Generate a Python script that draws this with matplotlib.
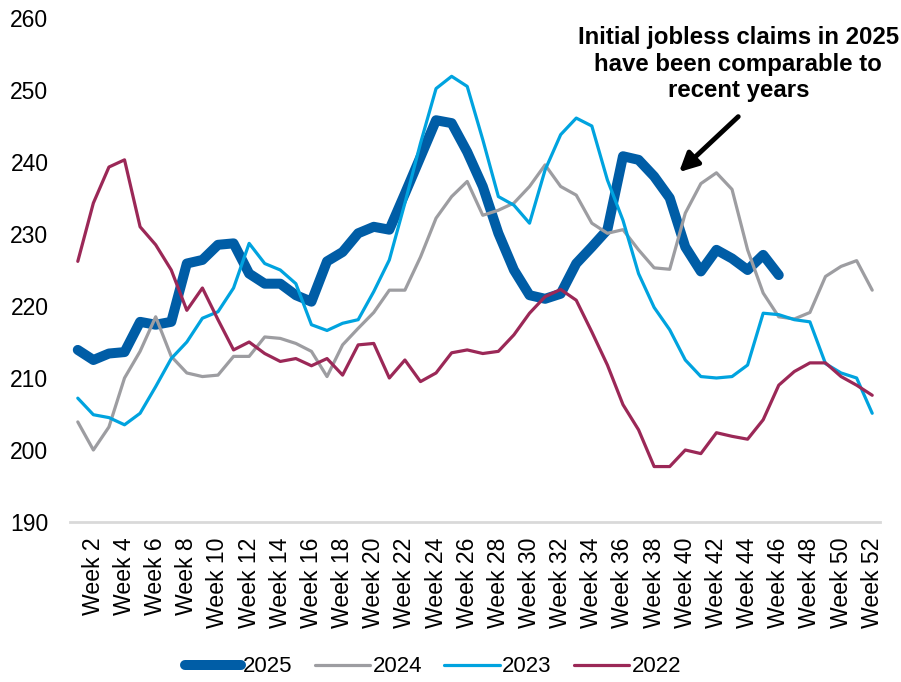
import matplotlib
matplotlib.use("Agg")
import matplotlib.pyplot as plt
import numpy as np

plt.rcParams['font.family'] = ['Liberation Sans', 'DejaVu Sans']

weeks = list(range(1, 53))
tick_weeks = list(range(2, 53, 2))
tick_labels = [f"Week {w}" for w in tick_weeks]

claims_2025 = [213.9, 212.5, 213.4, 213.6, 217.8, 217.4, 217.8, 225.9, 226.4, 228.5,
               228.7, 224.5, 223.1, 223.1, 221.5, 220.6, 226.2, 227.5, 230.1, 231.0,
               230.6, 235.6, 240.7, 245.8, 245.4, 241.4, 236.6, 230.1, 225.0, 221.5,
               221.0, 221.7, 225.9, 228.2, 230.6, 240.8, 240.3, 238.0, 235.0, 228.2,
               224.8, 227.8, 226.6, 225.0, 227.1, 224.3]
claims_2024 = [203.9, 200.0, 203.2, 210.0, 213.7, 218.5, 213.0, 210.7, 210.2, 210.4,
               213.0, 213.0, 215.7, 215.5, 214.8, 213.7, 210.2, 214.6, 216.9, 219.1,
               222.2, 222.2, 226.8, 232.2, 235.2, 237.3, 232.6, 233.3, 234.3, 236.6,
               239.6, 236.6, 235.4, 231.5, 230.1, 230.6, 227.8, 225.3, 225.1, 232.9,
               237.0, 238.5, 236.2, 227.8, 221.8, 218.5, 218.2, 219.1, 224.1, 225.5,
               226.3, 222.2]
claims_2023 = [207.2, 204.9, 204.5, 203.5, 205.1, 208.8, 212.7, 215.0, 218.3, 219.2,
               222.5, 228.7, 225.9, 225.0, 223.1, 217.4, 216.6, 217.6, 218.1, 222.0,
               226.4, 234.3, 242.6, 250.2, 251.9, 250.5, 243.1, 235.2, 234.0, 231.5,
               238.9, 243.8, 246.1, 245.0, 237.5, 231.9, 224.5, 219.8, 216.7, 212.5,
               210.2, 210.0, 210.2, 211.8, 219.0, 218.8, 218.1, 217.8, 212.0, 210.7,
               210.0, 205.1]
claims_2022 = [226.2, 234.3, 239.3, 240.3, 231.0, 228.5, 225.0, 219.4, 222.5, 218.1,
               213.9, 215.0, 213.4, 212.3, 212.7, 211.7, 212.7, 210.4, 214.6, 214.8,
               210.0, 212.5, 209.5, 210.7, 213.5, 213.9, 213.4, 213.7, 216.0, 219.0,
               221.3, 222.3, 220.8, 216.4, 211.8, 206.3, 202.8, 197.7, 197.7, 200.0,
               199.5, 202.4, 201.9, 201.5, 204.2, 209.0, 210.9, 212.1, 212.1, 210.2,
               209.0, 207.6]

series = [
    ("2025", claims_2025, "#005DA6", 7.2),
    ("2024", claims_2024, "#9D9DA1", 2.3),
    ("2023", claims_2023, "#00A3DF", 2.3),
    ("2022", claims_2022, "#9B2857", 2.3),
]

fig = plt.figure(figsize=(9.01, 6.82), dpi=100)
ax = fig.add_axes([70 / 901, 1 - 522 / 682, 810 / 901, 504 / 682])

for name, vals, color, lw in series:
    ax.plot(weeks[:len(vals)], vals, color=color, lw=lw, label=name,
            solid_capstyle='round', solid_joinstyle='round')

ax.set_xlim(0.5, 52.5)
ax.set_ylim(190, 260)
ax.set_yticks(np.arange(190, 261, 10))
ax.set_xticks(tick_weeks)
ax.set_xticklabels(tick_labels, rotation=90, fontsize=16.6)
ax.tick_params(axis='y', labelsize=16.5, length=0, pad=15.5)
ax.tick_params(axis='x', length=0, pad=11)
for s in ['top', 'right', 'left']:
    ax.spines[s].set_visible(False)
ax.spines['bottom'].set_color('#D9D9D9')
ax.spines['bottom'].set_linewidth(2)

ax.text(43.4, 253.6, "Initial jobless claims in 2025\nhave been comparable to\nrecent years",
        ha='center', va='center', fontsize=17.3, fontweight='bold', linespacing=1.2)
ax.annotate("", xy=(39.6, 238.6), xytext=(43.4, 246.3),
            arrowprops=dict(arrowstyle='-|>', lw=3.5, color='black', mutation_scale=28,
                            shrinkA=0, shrinkB=0))

fig.legend(loc='center', bbox_to_anchor=(433 / 901, 1 - 667 / 682), ncol=4, frameon=False,
           fontsize=16, handlelength=2.5, handletextpad=0.1, columnspacing=1.0)

fig.savefig("out.png", dpi=100)
